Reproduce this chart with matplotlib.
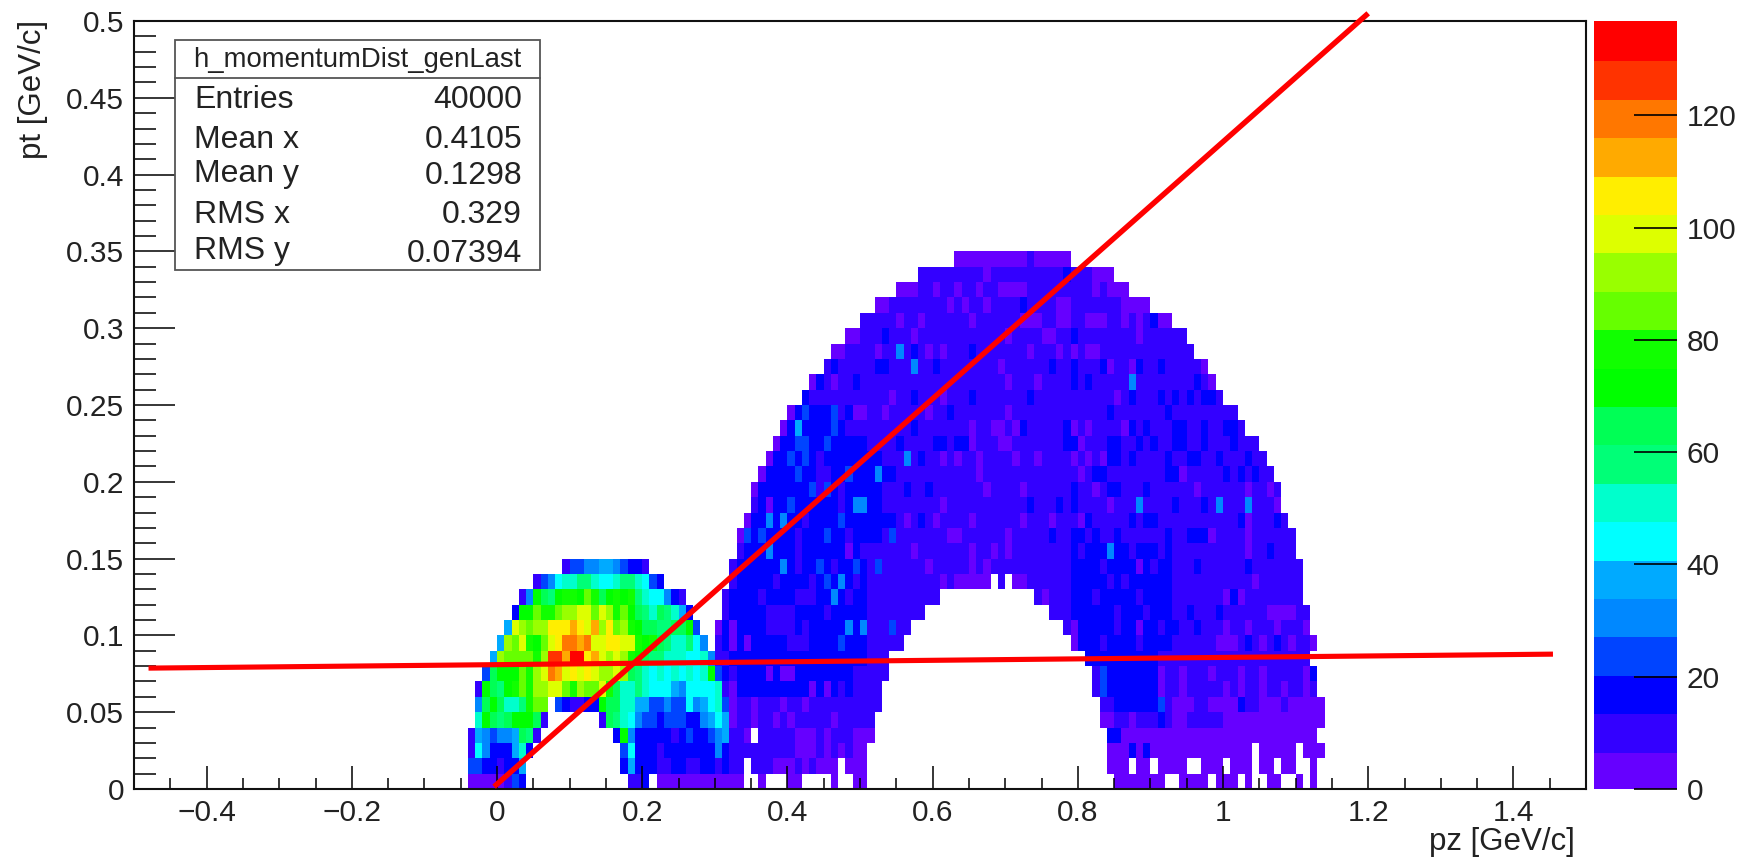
import numpy as np
import matplotlib
matplotlib.use("Agg")
import matplotlib.pyplot as plt
from matplotlib.colors import ListedColormap, BoundaryNorm
from matplotlib.patches import Rectangle

plt.rcParams["font.family"] = ["Liberation Sans", "DejaVu Sans"]

# ------------------------------------------------------
# Data
# ------------------------------------------------------
# palette bands, bottom to top, count range of the z axis
palette = ["#6600ff", "#3300ff", "#0000ff", "#0044ff", "#0088ff", "#00aaff", "#00ffff",
           "#00ffcc", "#00ff77", "#00ff55", "#00ff00", "#11ff00", "#66ff00", "#99ff00",
           "#ddff00", "#ffee00", "#ffaa00", "#ff7700", "#ff3300", "#ff0000"]
z_max = 136.8
z_ticks = [0, 20, 40, 60, 80, 100, 120]

x_ticks = [-0.4, -0.2, 0, 0.2, 0.4, 0.6, 0.8, 1, 1.2, 1.4]
x_labels = ["\u22120.4", "\u22120.2", "0", "0.2", "0.4", "0.6", "0.8", "1", "1.2", "1.4"]
y_ticks = [0, 0.05, 0.1, 0.15, 0.2, 0.25, 0.3, 0.35, 0.4, 0.45, 0.5]
y_labels = ["0", "0.05", "0.1", "0.15", "0.2", "0.25", "0.3", "0.35", "0.4", "0.45", "0.5"]

# low-momentum blob: band per bin, row -> "first_bin|bands" (bins of 0.01 in pz, band 1-k base 36)
blob_rows = {
    14: "9|244556654332",
    13: "5|245788998778998743",
    12: "3|25ba9bccbdcabcbc9877532",
    11: "2|3bbdccdeeffdfecdba98a9863",
    10: "1|6fedeeggghgfhegdecbaa99aab4",
    9: "0|6edfcbdfgiihiffggffcbca988975",
    8: "-1|6eddddcejjhkkghfefecba998887785",
    7: "-2|4abbbdcefihfgfgfeefea9878787878b4",
    6: "-3|2ba9bcdceeffdceddfca88987776577778",
    5: "-3|5aba889cdd 8|432233 14|baa8866445447567 30|84",
    4: "-3|8ba9abbba2 14|2a987544344433567 31|6",
    3: "-4|2654556a92 16|3b533333234334 30|56",
    2: "-4|275333683 17|47333233333335",
    1: "-4|44332336 17|36333223322332",
    0: "-4|11111243 18|223 22|111111111111",
}

# high-momentum shell: first and last filled bin per row (row 0 at the bottom)
shell_left = [34, 31, 31, 32, 32, 32, 31, 31, 30, 30, 30, 31, 31, 32, 32, 33, 33, 34,
              35, 35, 36, 37, 38, 39, 40, 42, 43, 45, 46, 48, 50, 52, 55, 58, 63]
shell_right = [112, 112, 113, 112, 113, 113, 112, 112, 111, 112, 111, 111, 110, 110, 110, 109, 109, 108,
               107, 107, 106, 105, 104, 102, 101, 99, 98, 97, 95, 94, 92, 89, 86, 84, 78]
# empty inner part of the shell, rows 0-12
hole_left = [51, 51, 51, 52, 52, 53, 53, 54, 54, 56, 57, 59, 61]
hole_right = [84, 83, 83, 83, 82, 82, 81, 81, 80, 78, 77, 75, 73]
# single empty bins
shell_gaps = {0: [34, 35, 37, 38, 39, 42, 43, 44, 45, 47, 48, 92, 93, 98, 102, 104, 105, 108, 109, 111],
              1: [34, 47, 87, 90, 95, 96, 100, 104, 107, 110, 111],
              2: [104, 110], 3: [35], 13: [68, 70]}
# usual band per row of the shell
shell_base = [1, 1, 1, 1, 2, 2, 2, 2, 2, 2, 2, 2, 2, 2, 2, 2, 2, 2,
              2, 2, 2, 2, 2, 2, 2, 2, 2, 2, 2, 2, 2, 2, 2, 2, 1]
# stretches of the row that sit one band higher (band 3), "from-to"
shell_blue = {
    24: "41-46", 23: "40-47", 22: "39-50", 21: "38-52", 20: "37-54", 19: "36-52", 18: "36-52", 17: "35-54",
    16: "34-52", 15: "34-50 79-92", 14: "33-50 79-92", 13: "33-50 79-92", 12: "32-50 79-92", 11: "32-50 79-92",
    10: "31-50 80-92", 9: "31-50 80-92", 8: "32-50 81-90", 7: "33-48 83-90", 6: "33-46 83-90", 5: "85-90",
}
# bins that differ from the above: "bin=band" or "from-to=band"
shell_spots = {
    34: "73=2",
    33: "58-66=2 67=1 78=3 82-84=1",
    32: "55-57=1 60=1 63=1 66=1 69-72=1 82=1 84-86=1",
    31: "52-53=1 62=1 64=1 67=1 72=3 77-78=1 86-89=1",
    30: "55=1 58=1 65=1 72-74=1 77-78=1 81-83=1 86=1 88=1 90=3 91-92=1",
    29: "48-49=1 53=3 57=1 70=1 75-76=1 79=3 88=1",
    28: "46-47=1 52=1 55=5 57=3 59=1 61=1 65=3 73=1 77=1 79=1 81-82=1",
    27: "46=3 52-53=3 57=5 60=3 69=1 76=3 79=3 83=3 84=1 87=1 88=3 91=3 97=1",
    26: "43=1 44=3 46=1 49=3 70=1 74=1 79=3 81=3 87=5 96=3 98=1",
    25: "42=3 54=1 57=3 61=1 65=3 73=3 85=1 87=3 91=3 93=3 95=3 97-98=3",
    24: "40=1 42=4 46=4 48=3 49-50=1 53=1 59=1 62=3 70=1 84=3 92=3",
    23: "39=1 41=6 43=3 46=4 57=3 65=1 68-69=1 71=1 72=3 78=3 79=1 81=1 86=1 87=3 89=3 93-94=3 97=3 100-101=3",
    22: "38=1 41-42=4 45=4 55=3 60-61=3 63-64=3 65=1 69-70=1 78-79=3 80=1 84-85=3 88=3 90=3 93-94=3 97=3 101=3",
    21: "37=1 40=4 42=4 44=2 56=5 58=3 61=1 63=1 66=1 71=1 74=1 79=1 81=1 83=1 84-85=3 87=3 92=3 95-96=3 99=3 103=3",
    20: "36=1 41=4 44-45=2 46=3 48=4 52=5 66=1 80=1 82-83=3 92-93=3 94=1 100=3 102=3 104=3",
    19: "35=1 43=4 44=2 45=4 47=2 56=3 59=3 67=1 72=1 79=3 82=1 84-85=3 89=3 96=1 103=1 106=1",
    18: "37=1 40=4 46=3 47=2 49-50=5 61=1 73=3 77=3 79=3 84=1 88=5 93=3 97=3 99=5 103=5 107=1",
    17: "34=1 37=5 39=5 42=2 47=4 56=1 58=3 60=1 65=1 72=1 76=1 80=1 81=3 87=3 89-90=3 102=3 103=1 107=3",
    16: "33=1 34=4 36=4 41=2 45=4 48=2 54=4 62-63=1 70=1 76=3 79-80=3 82=3 85=3 92=3 95-97=3 98=1 103=1",
    15: "37=5 41=2 48=1 50=2 57=1 65=1 68=1 70=1 80=2 84=5 87=2 91=2 103=1 106=3",
    14: "39=5 41=2 44=4 46=2 49=4 52=4 59=1 65=1 67=1 83=2 88=1 90=2 96=3 103=3",
    13: "38=2 43=2 45=4 47=5 49=2 61=1 63-67=1 71-72=1 79=3 84=2 86=2 104=1",
    12: "36=2 41-43=2 46=5 48=2 75=1 82=2 88=2 100=1 101=3 102=1",
    11: "37-40=2 45=2 85=2 89=2 95=3 99=3 106-109=1",
    10: "30=1 32=1 37-40=2 42=2 48=5 50=5 54=4 79=1 85=2 88=1 90=3 91=2 93=3 96=3 100=1 103=1 107=1 111=1",
    9: "32=1 34=1 38=3 40-42=2 47=4 79=1 80=3 83=2 86=3 88=2 99-101=1 103=3 105=1 107=3 109=1 112=1",
    7: "31=3 37=1 39=1 40=1 42=3 83=4 88=3 91=1 94=1 98=1 102=1 105=1 111=1 112=3",
    6: "32=1 36=3 38=3 43=1 45=1 48=3 83=4 84=3 87=3 91=1 94=1 100=1 102=1 105=1 108=1 111=1",
    5: "32=1 35=1 39=1 42=1 91=4 93-95=1 98-101=1 102=3 105-107=1 109-113=1",
    4: "32=1 35=1 38=1 40=1 46=1 83-84=1 87=1 91=3 93-94=1 100-113=1",
    3: "32=2 33=2 36-40=2 44=2 46-48=2 84-85=3",
    2: "31=3 32-40=2 44=2 46=2 48=2 87=3 89=3",
    1: "31=3 32-33=2 35-37=2 41=2 43=2",
}

# straight lines drawn on top
line1_x = [-0.004, 1.2]
line1_y = [0.0015, 0.505]
line2_x = [-0.48, 1.4545]
line2_y = [0.0787, 0.0878]

stats_title = "h_momentumDist_genLast"
stats_names = ["Entries", "Mean x", "Mean y", "RMS x", "RMS y"]
stats_values = ["40000", "0.4105", "0.1298", "0.329", "0.07394"]

# ------------------------------------------------------
# Fill the histogram, 200 x 50 bins
# ------------------------------------------------------
x_edges = np.linspace(-0.5, 1.5, 201)
y_edges = np.linspace(0, 0.5, 51)
bands = np.zeros((50, 200), dtype=int)
first_bin = 50  # pz = 0


def set_band(row, span, lev):
    k1, k2 = (span.split("-") + [span])[:2]
    for k in range(int(k1), int(k2) + 1):
        if bands[row, first_bin + k] > 0:
            bands[row, first_bin + k] = lev


for row in range(35):
    for k in range(shell_left[row], shell_right[row] + 1):
        if row <= 12 and hole_left[row] <= k <= hole_right[row]:
            continue
        if k in shell_gaps.get(row, []):
            continue
        bands[row, first_bin + k] = shell_base[row]
    for span in shell_blue.get(row, "").split():
        set_band(row, span, 3)
    for spot in shell_spots.get(row, "").split():
        span, lev = spot.split("=")
        set_band(row, span, int(lev))

for row, text in blob_rows.items():
    for part in text.split():
        start, levels = part.split("|")
        for i, c in enumerate(levels):
            bands[row, first_bin + int(start) + i] = int(c, 36)

band_width = z_max / len(palette)
counts = np.where(bands > 0, (bands - 0.5) * band_width, np.nan)

# ------------------------------------------------------
# Plot
# ------------------------------------------------------
W, H = 1751, 859
fig = plt.figure(figsize=(W / 100, H / 100), dpi=100, facecolor="white")
ax = fig.add_axes([134 / W, 1 - 789 / H, (1586 - 134) / W, (789 - 21) / H])
cax = fig.add_axes([1594 / W, 1 - 789 / H, (1677 - 1594) / W, (789 - 21) / H])

cmap = ListedColormap(palette)
norm = BoundaryNorm(np.linspace(0, z_max, len(palette) + 1), len(palette))
mesh = ax.pcolormesh(x_edges, y_edges, counts, cmap=cmap, norm=norm, linewidth=0)

ax.plot(line1_x, line1_y, color="#ff0000", lw=3.9, clip_on=False, zorder=4, solid_capstyle="butt")
ax.plot(line2_x, line2_y, color="#ff0000", lw=3.7, clip_on=False, zorder=4, solid_capstyle="butt")

ax.set_xlim(-0.5, 1.5)
ax.set_ylim(0, 0.5)
ax.set_xticks(x_ticks, x_labels)
ax.set_yticks(y_ticks, y_labels)
ax.set_xticks(np.arange(-0.45, 1.5, 0.05), minor=True)
ax.set_yticks(np.arange(0.01, 0.5, 0.01), minor=True)
text_col = "#222222"
ax.tick_params(axis="x", which="major", direction="in", length=16.5, width=1.1, labelsize=21.5, pad=7, labelcolor=text_col)
ax.tick_params(axis="x", which="minor", direction="in", length=8, width=1.1)
ax.tick_params(axis="y", which="major", direction="in", length=29.5, width=1.1, labelsize=21.5, pad=7, labelcolor=text_col)
ax.tick_params(axis="y", which="minor", direction="in", length=16, width=1.1)
for s in ax.spines.values():
    s.set_linewidth(1.5)
    s.set_color("#111111")

cbar = fig.colorbar(mesh, cax=cax, ticks=z_ticks, spacing="proportional")
cbar.outline.set_visible(False)
cbar.solids.set_edgecolor("face")
cax.yaxis.set_ticks_position("right")
cax.tick_params(axis="y", which="major", direction="in", length=31, width=1.2, labelsize=21.5, pad=7, labelcolor=text_col)
cax.minorticks_off()
cax.set_yticklabels([str(t) for t in z_ticks])

fig.text(1575 / W, 1 - 842 / H, "pz [GeV/c]", ha="right", va="center", fontsize=22.5, color=text_col)
fig.text(33 / W, 1 - 20 / H, "pt [GeV/c]", ha="center", va="top", rotation=90, fontsize=22.5, color=text_col)

# stats box
box = Rectangle((175 / W, 1 - 270 / H), (540 - 175) / W, (270 - 40) / H, transform=fig.transFigure,
                facecolor="white", edgecolor="#555555", lw=1.3, zorder=5)
fig.add_artist(box)
fig.add_artist(plt.Line2D([175 / W, 540 / W], [1 - 78 / H, 1 - 78 / H], color="#555555", lw=1.3, zorder=6))
fig.text(357 / W, 1 - 60 / H, stats_title, ha="center", va="center", fontsize=19.8, color=text_col, zorder=7)
name_y = [100, 140, 174, 215, 251]
value_y = [100, 140, 176, 215, 254]
for name, value, ny, vy in zip(stats_names, stats_values, name_y, value_y):
    fig.text(194 / W, 1 - ny / H, name, ha="left", va="center", fontsize=23, color=text_col, zorder=7)
    fig.text(522 / W, 1 - vy / H, value, ha="right", va="center", fontsize=23, color=text_col, zorder=7)

plt.savefig("out.png", dpi=100)
plt.close()
